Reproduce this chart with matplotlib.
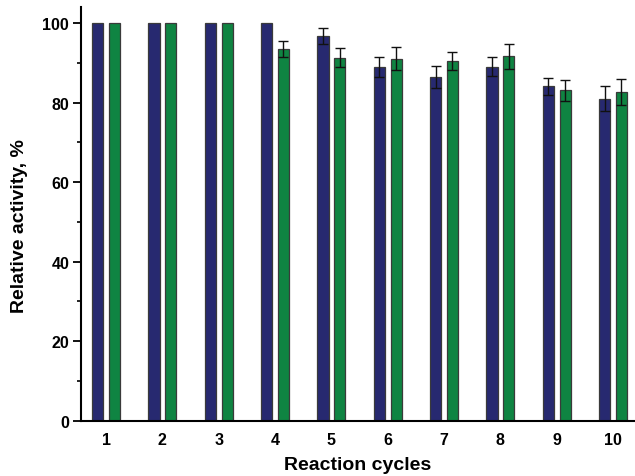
import matplotlib.pyplot as plt
import numpy as np
from matplotlib.ticker import MultipleLocator

plt.rcParams['font.family'] = ['Liberation Sans', 'DejaVu Sans']
plt.rcParams['font.weight'] = 'bold'

cycles = ['1', '2', '3', '4', '5', '6', '7', '8', '9', '10']
blue_vals = [100, 100, 100, 100, 96.7, 88.9, 86.5, 89.0, 84.1, 81.0]
blue_err = [0, 0, 0, 0, 2.0, 2.5, 2.8, 2.4, 2.1, 3.1]
green_vals = [100, 100, 100, 93.4, 91.3, 91.0, 90.5, 91.6, 83.1, 82.6]
green_err = [0, 0, 0, 2.0, 2.3, 2.9, 2.3, 3.1, 2.6, 3.3]

x = np.arange(1, len(cycles) + 1)
w = 0.2
off = 0.15

fig = plt.figure(figsize=(6.35, 4.77), dpi=100)
ax = fig.add_axes([0.1276, 0.116, 0.8724, 0.867])

ax.bar(x - off, blue_vals, w, color='#272970', edgecolor='#3a3a3a', lw=0.9)
ax.bar(x + off, green_vals, w, color='#0f8442', edgecolor='#3a3a3a', lw=0.9)
ax.errorbar(x[4:] - off, blue_vals[4:], yerr=blue_err[4:], fmt='none',
            ecolor='#111111', elinewidth=1, capsize=3.5, capthick=1)
ax.errorbar(x[3:] + off, green_vals[3:], yerr=green_err[3:], fmt='none',
            ecolor='#111111', elinewidth=1, capsize=3.5, capthick=1)

ax.set_xlim(0.556, 10.39)
ax.set_ylim(0, 104)
ax.set_xticks(x)
ax.set_xticklabels(cycles)
ax.yaxis.set_major_locator(MultipleLocator(20))
ax.yaxis.set_minor_locator(MultipleLocator(10))

for s in ['top', 'right']:
    ax.spines[s].set_visible(False)
for s in ['left', 'bottom']:
    ax.spines[s].set_linewidth(1.5)

ax.tick_params(axis='y', which='major', length=5.5, width=1.3, labelsize=11.5, pad=3)
ax.tick_params(axis='y', which='minor', length=3, width=1.2)
ax.tick_params(axis='x', length=0, labelsize=11.5, pad=8)

ax.set_xlabel('Reaction cycles', fontsize=14, fontweight='bold')
ax.set_ylabel('Relative activity, %', fontsize=14, fontweight='bold')
ax.xaxis.set_label_coords(0.5, -0.086)
ax.yaxis.set_label_coords(-0.096, 0.473)

fig.savefig('out.png', dpi=100)
